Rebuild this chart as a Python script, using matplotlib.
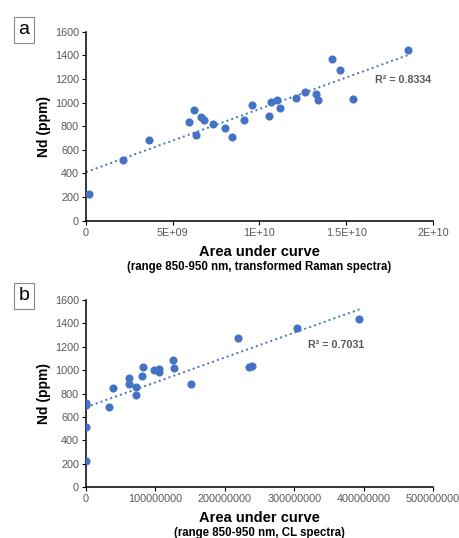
import numpy as np
import matplotlib.pyplot as plt

plt.rcParams['font.family'] = ['Liberation Sans', 'DejaVu Sans']

# panel a: transformed Raman spectra
raman_area = [0.19e9, 2.13e9, 3.63e9, 5.94e9, 6.25e9, 6.35e9, 6.65e9, 6.79e9,
              7.33e9, 8.02e9, 8.40e9, 9.08e9, 9.58e9, 10.56e9, 10.67e9, 11.02e9,
              11.17e9, 12.08e9, 12.6e9, 13.27e9, 13.38e9, 14.19e9, 14.63e9,
              15.4e9, 18.54e9]
raman_nd = [226, 516, 686, 835, 934, 722, 880, 849, 818, 787, 711, 855, 982,
            883, 1002, 1019, 951, 1038, 1086, 1069, 1021, 1369, 1278, 1027, 1445]

# panel b: CL spectra
cl_area = [0, 0, 0, 0, 32.7e6, 38.5e6, 62e6, 62e6, 71.6e6, 72e6, 81e6, 82e6,
           97.6e6, 104.8e6, 104.8e6, 125e6, 126.4e6, 151e6, 219e6, 234.6e6,
           238.5e6, 304e6, 394e6]
cl_nd = [225, 516, 720, 700, 684, 850, 935, 884, 853, 787, 947, 1024, 1001,
         1007, 985, 1087, 1021, 878, 1275, 1030, 1032, 1357, 1440]

blue = '#4472C4'
grey = '#595959'

fig = plt.figure(figsize=(4.6, 5.38), dpi=100)
W, H = 460, 538


def panel(top, bottom, x, y, xmax, xticks, xlabels, r2, r2pos, sub, letter, box_y):
    ax = fig.add_axes([86 / W, 1 - bottom / H, (433 - 86) / W, (bottom - top) / H])
    ax.scatter(x, y, s=34, color=blue, zorder=3, linewidths=0)
    k, b = np.polyfit(x, y, 1)
    xs = np.array([0, max(x)])
    ax.plot(xs, k * xs + b, ls=':', color=blue, lw=1.4, zorder=2)
    ax.text(r2pos[0], r2pos[1], r2, color=grey, fontsize=7.7, fontweight='bold',
            ha='center', va='center')
    ax.set_xlim(0, xmax)
    ax.set_ylim(0, 1600)
    ax.set_yticks(range(0, 1601, 200))
    ax.set_xticks(xticks)
    ax.set_xticklabels(xlabels)
    ax.tick_params(labelsize=7.8, labelcolor=grey, length=3, width=0.8, pad=2)
    for s in ['top', 'right']:
        ax.spines[s].set_visible(False)
    for s in ['left', 'bottom']:
        ax.spines[s].set_linewidth(1.1)
    ax.set_ylabel('Nd (ppm)', fontsize=10, fontweight='bold', labelpad=3)
    ax.set_xlabel('Area under curve', fontsize=10.5, fontweight='bold', labelpad=5)
    ax.text(0.5, -0.215, sub, transform=ax.transAxes, fontsize=8.3,
            fontweight='bold', ha='center', va='top')
    fig.text(24 / W, 1 - box_y / H, letter, fontsize=14, ha='center', va='center',
             bbox=dict(boxstyle='square,pad=0.25', fc='white', ec='#888888', lw=0.8))
    return ax


panel(31.7, 220.7, raman_area, raman_nd, 2e10,
      [0, 5e9, 1e10, 1.5e10, 2e10], ['0', '5E+09', '1E+10', '1.5E+10', '2E+10'],
      'R² = 0.8334', (18.27e9, 1188),
      '(range 850-950 nm, transformed Raman spectra)', 'a', 30)

panel(300, 487, cl_area, cl_nd, 5e8,
      [0, 1e8, 2e8, 3e8, 4e8, 5e8],
      ['0', '100000000', '200000000', '300000000', '400000000', '500000000'],
      'R² = 0.7031', (360.6e6, 1215),
      '(range 850-950 nm, CL spectra)', 'b', 296)

fig.savefig('out.png', dpi=100)
